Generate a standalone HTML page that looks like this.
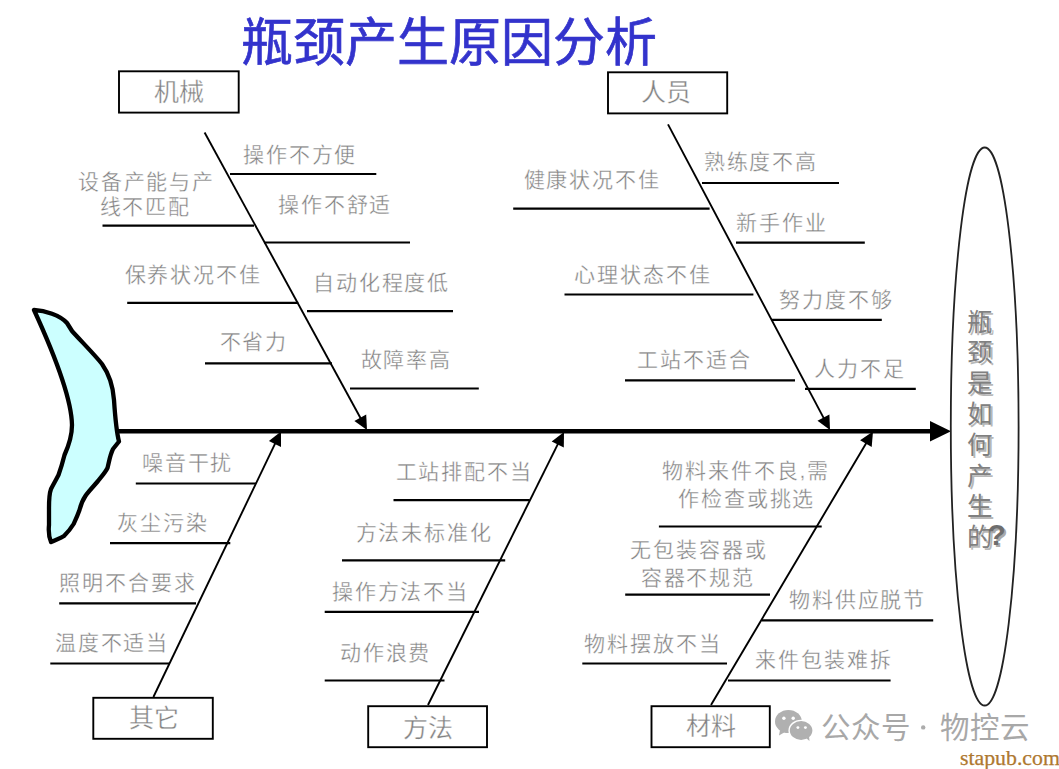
<!DOCTYPE html>
<html lang="zh-CN"><head><meta charset="utf-8"><style>
html,body{margin:0;padding:0;background:#fff;}
body{width:1059px;height:769px;position:relative;overflow:hidden;font-family:"Liberation Sans",sans-serif;}
svg{position:absolute;left:0;top:0;}
.t{position:absolute;white-space:nowrap;font-size:21px;line-height:21px;letter-spacing:1.9px;color:#828282;-webkit-text-stroke:0.35px #fff;}
.t.b{font-size:25.0px;line-height:25.0px;letter-spacing:0;}
.title{position:absolute;left:241px;top:13px;font-size:52px;line-height:60px;color:#3333cc;white-space:nowrap;font-weight:normal;-webkit-text-stroke:0.7px #3333cc;}
.vt{position:absolute;left:967px;font-size:25.5px;line-height:30px;color:#808080;font-weight:normal;text-shadow:1.5px 1.5px 0.5px #b8b8b8;}
.q{position:absolute;left:987.5px;top:520px;font-size:30px;line-height:30px;color:#6e6e6e;font-weight:bold;text-shadow:2px 1.5px 0.5px #aaaaaa;}
.wm{position:absolute;top:710px;font-size:29.5px;line-height:36px;color:#a8a8a8;white-space:nowrap;}
.sp{position:absolute;left:960px;top:745.5px;-webkit-text-stroke:0.25px #a8702a;font-family:"Liberation Serif",serif;font-size:21.8px;line-height:24px;color:#b07a30;white-space:nowrap;}
</style></head><body>
<svg width="1059" height="769" viewBox="0 0 1059 769">
<line x1="230" y1="174.0" x2="376.3" y2="174.0" stroke="#000" stroke-width="2.2"/><line x1="102.5" y1="225.7" x2="254" y2="225.7" stroke="#000" stroke-width="2.2"/><line x1="264" y1="242.5" x2="410" y2="242.5" stroke="#000" stroke-width="2.2"/><line x1="127.2" y1="302.8" x2="298.3" y2="302.8" stroke="#000" stroke-width="2.2"/><line x1="307" y1="311.1" x2="453" y2="311.1" stroke="#000" stroke-width="2.2"/><line x1="205" y1="363.3" x2="332" y2="363.3" stroke="#000" stroke-width="2.2"/><line x1="350" y1="388.5" x2="478.8" y2="388.5" stroke="#000" stroke-width="2.2"/><line x1="702" y1="183.0" x2="839" y2="183.0" stroke="#000" stroke-width="2.2"/><line x1="513.2" y1="208.7" x2="709.6" y2="208.7" stroke="#000" stroke-width="2.2"/><line x1="736" y1="242.7" x2="864.8" y2="242.7" stroke="#000" stroke-width="2.2"/><line x1="564.5" y1="294.5" x2="753.4" y2="294.5" stroke="#000" stroke-width="2.2"/><line x1="771" y1="319.8" x2="881.8" y2="319.8" stroke="#000" stroke-width="2.2"/><line x1="625" y1="380.3" x2="795" y2="380.3" stroke="#000" stroke-width="2.2"/><line x1="805" y1="388.8" x2="915.8" y2="388.8" stroke="#000" stroke-width="2.2"/><line x1="135.8" y1="483.5" x2="256" y2="483.5" stroke="#000" stroke-width="2.2"/><line x1="110" y1="543.1" x2="230.3" y2="543.1" stroke="#000" stroke-width="2.2"/><line x1="59.2" y1="603.3" x2="196" y2="603.3" stroke="#000" stroke-width="2.2"/><line x1="50.3" y1="663.5" x2="170" y2="663.5" stroke="#000" stroke-width="2.2"/><line x1="393.5" y1="500.2" x2="529.7" y2="500.2" stroke="#000" stroke-width="2.2"/><line x1="342" y1="560.3" x2="505.2" y2="560.3" stroke="#000" stroke-width="2.2"/><line x1="324.7" y1="611.9" x2="479" y2="611.9" stroke="#000" stroke-width="2.2"/><line x1="324.7" y1="680.5" x2="444.5" y2="680.5" stroke="#000" stroke-width="2.2"/><line x1="658.9" y1="526.5" x2="821.7" y2="526.5" stroke="#000" stroke-width="2.2"/><line x1="625.2" y1="594.7" x2="770" y2="594.7" stroke="#000" stroke-width="2.2"/><line x1="761.8" y1="620.4" x2="933.2" y2="620.4" stroke="#000" stroke-width="2.2"/><line x1="582.3" y1="663.5" x2="727" y2="663.5" stroke="#000" stroke-width="2.2"/><line x1="728" y1="680.5" x2="890.6" y2="680.5" stroke="#000" stroke-width="2.2"/><line x1="204.6" y1="132.5" x2="361.3" y2="419.5" stroke="#000" stroke-width="1.9"/><polygon points="367,430 354.4,420.9 366.2,414.5" fill="#000"/><line x1="668" y1="124.4" x2="824.4" y2="419.4" stroke="#000" stroke-width="1.9"/><polygon points="830,430 817.5,420.8 829.4,414.5" fill="#000"/><line x1="153.4" y1="697" x2="275.8" y2="442.2" stroke="#000" stroke-width="1.9"/><polygon points="281,431.4 281.0,446.9 268.9,441.1" fill="#000"/><line x1="428" y1="705" x2="558.6" y2="442.7" stroke="#000" stroke-width="1.9"/><polygon points="564,432 563.8,447.5 551.7,441.5" fill="#000"/><line x1="711" y1="705" x2="866.9" y2="441.9" stroke="#000" stroke-width="1.9"/><polygon points="873,431.6 871.7,447.1 860.1,440.2" fill="#000"/><line x1="116" y1="431.3" x2="932" y2="431.3" stroke="#000" stroke-width="4.4"/><polygon points="951,431.2 930,421 930,441.5" fill="#000"/><rect x="119" y="71.3" width="119.7" height="41.3" fill="#fff" stroke="#000" stroke-width="1.9"/><rect x="608" y="72.3" width="119.2" height="41.1" fill="#fff" stroke="#000" stroke-width="1.9"/><rect x="93.3" y="697.8" width="119.5" height="41.0" fill="#fff" stroke="#000" stroke-width="1.9"/><rect x="368.2" y="706.2" width="118.8" height="41.0" fill="#fff" stroke="#000" stroke-width="1.9"/><rect x="651.5" y="706.2" width="118.3" height="41.0" fill="#fff" stroke="#000" stroke-width="1.9"/><ellipse cx="984.7" cy="426.5" rx="33.9" ry="279" fill="none" stroke="#222" stroke-width="1.8"/><path d="M34,310 C45,310.5 60,315 67,323 L72,331 C80,340 95,355 102,364 C109,374 113,385 114,400 C115,415 116,430 119,441.5 L113,449 C110,455 109,462 107.5,468 C105,473 101,477 98,481 C93,487 88,492 85.4,496 C82,501 80.5,506 79.5,510 C77,517 75,521 73.6,524 C70,530 67,533 64,536 C60,538.5 56,539.5 51,542 C48,535 48.5,530 49,525 L49,508 C49,500 49.5,493 51,489 C54,483 57,478 58.5,475 C61,468 63,461 64.5,455 C69,445 72,435 72,425 C71.5,397 51,347 34,310 Z" fill="#ccffff" stroke="#000" stroke-width="4.3" stroke-linejoin="round"/><circle cx="923.2" cy="727.4" r="2.2" fill="#acacac"/><g fill="#b0b0b0"><ellipse cx="788.4" cy="721.5" rx="13.4" ry="11.5"/><polygon points="780,730 779,735.5 785,732"/><ellipse cx="801.1" cy="730.5" rx="12" ry="10.1" stroke="#fff" stroke-width="1.4"/><polygon points="806,738 809.5,741 809,736"/><circle cx="783.9" cy="718.2" r="1.7" fill="#fff"/><circle cx="793.2" cy="718.2" r="1.7" fill="#fff"/><circle cx="797.9" cy="727.6" r="1.45" fill="#fff"/><circle cx="805.4" cy="727.6" r="1.45" fill="#fff"/></g>
</svg>
<div class="title">瓶颈产生原因分析</div>
<div class="t" style="left:242.9px;top:143.8px">操作不方便</div><div class="t" style="left:77.8px;top:170.5px">设备产能与产</div><div class="t" style="left:99.5px;top:195.8px">线不匹配</div><div class="t" style="left:277.9px;top:194.3px">操作不舒适</div><div class="t" style="left:124.6px;top:263.5px">保养状况不佳</div><div class="t" style="left:312.9px;top:271.9px">自动化程度低</div><div class="t" style="left:219.5px;top:331.1px">不省力</div><div class="t" style="left:360.5px;top:349.4px">故障率高</div><div class="t" style="left:703.7px;top:151.4px">熟练度不高</div><div class="t" style="left:523.6px;top:168.9px">健康状况不佳</div><div class="t" style="left:736.3px;top:212.4px">新手作业</div><div class="t" style="left:574.4px;top:264.1px">心理状态不佳</div><div class="t" style="left:779.4px;top:288.6px">努力度不够</div><div class="t" style="left:637.0px;top:349.4px">工站不适合</div><div class="t" style="left:814.3px;top:357.9px">人力不足</div><div class="t" style="left:141.8px;top:452.1px">噪音干扰</div><div class="t" style="left:117.0px;top:512.2px">灰尘污染</div><div class="t" style="left:59.2px;top:571.9px">照明不合要求</div><div class="t" style="left:54.8px;top:632.3px">温度不适当</div><div class="t" style="left:395.6px;top:460.8px">工站排配不当</div><div class="t" style="left:355.6px;top:522.4px">方法未标准化</div><div class="t" style="left:331.8px;top:581.0px">操作方法不当</div><div class="t" style="left:339.8px;top:641.8px">动作浪费</div><div class="t" style="left:662.2px;top:460.2px">物料来件不良,需</div><div class="t" style="left:678.0px;top:487.8px">作检查或挑选</div><div class="t" style="left:630.2px;top:539.2px">无包装容器或</div><div class="t" style="left:640.7px;top:566.9px">容器不规范</div><div class="t" style="left:788.9px;top:589.1px">物料供应脱节</div><div class="t" style="left:584.4px;top:633.1px">物料摆放不当</div><div class="t" style="left:755.1px;top:649.4px">来件包装难拆</div><div class="t b" style="left:154.1px;top:79.8px">机械</div><div class="t b" style="left:641.3px;top:80.3px">人员</div><div class="t b" style="left:128.9px;top:706.3px">其它</div><div class="t b" style="left:402.6px;top:715.8px">方法</div><div class="t b" style="left:686.3px;top:713.9px">材料</div>
<div class="vt" style="top:306.5px">瓶</div><div class="vt" style="top:337.3px">颈</div><div class="vt" style="top:368.1px">是</div><div class="vt" style="top:398.9px">如</div><div class="vt" style="top:429.7px">何</div><div class="vt" style="top:460.5px">产</div><div class="vt" style="top:491.3px">生</div><div class="vt" style="top:522.1px">的</div>
<div class="q">?</div>
<div class="wm" style="left:821px">公众号</div><div class="wm" style="left:940px">物控云</div>
<div class="sp">stapub.com</div>
</body></html>
